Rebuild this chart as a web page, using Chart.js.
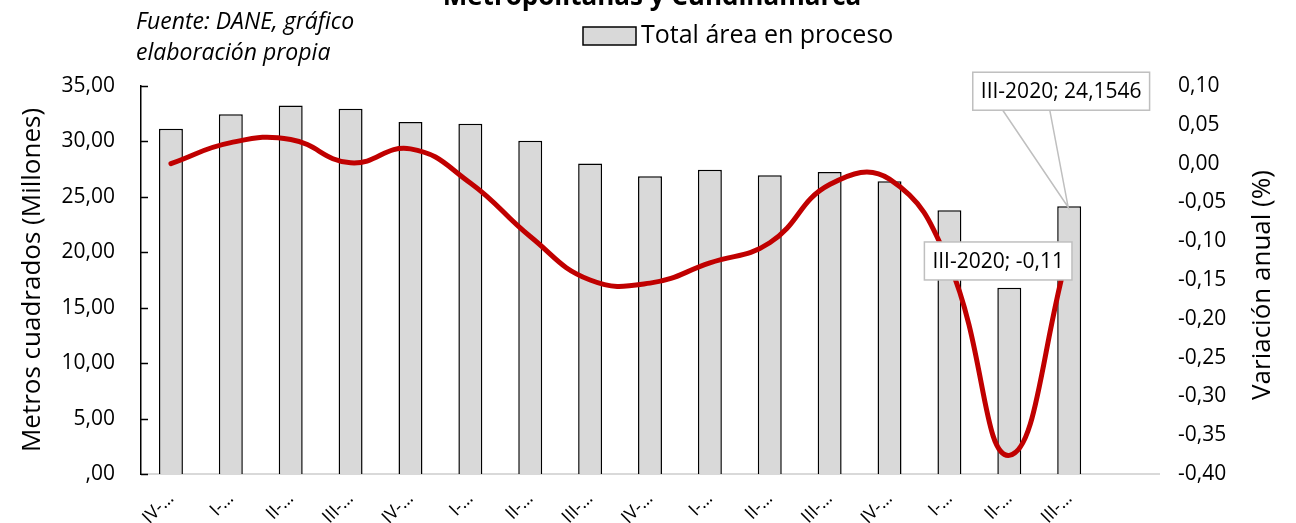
<!DOCTYPE html>
<html>
<head>
<meta charset="utf-8">
<script src="https://cdn.jsdelivr.net/npm/chart.js@4"></script>
<style>
  html, body { margin: 0; padding: 0; background: #fff; }
  #wrap { width: 1296px; height: 523px; }
</style>
</head>
<body>
<div id="wrap"><canvas id="chart" width="1296" height="523"></canvas></div>
<script>
// ======================================
// Data
// ======================================

const categories = [
  "IV-2016", "I-2017", "II-2017", "III-2017",
  "IV-2017", "I-2018", "II-2018", "III-2018",
  "IV-2018", "I-2019", "II-2019", "III-2019",
  "IV-2019", "I-2020", "II-2020", "III-2020", ""
];

// Total área en proceso (millones de m2)
const areaValues = [
  31.15, 32.45, 33.25, 32.95, 31.75, 31.6, 30.05, 28.0,
  26.85, 27.45, 26.95, 27.25, 26.4, 23.8, 16.8, 24.1546, null
];

// Variación anual
const variationValues = [
  0.0, 0.027, 0.031, 0.001, 0.019, -0.025, -0.094, -0.150,
  -0.154, -0.128, -0.102, -0.027, -0.020, -0.130, -0.376, -0.11, null
];

const leftTicks = [0, 5, 10, 15, 20, 25, 30, 35];
const rightTicks = [-0.4, -0.35, -0.3, -0.25, -0.2, -0.15, -0.1, -0.05, 0, 0.05, 0.1];

const FONT = "'Open Sans', 'Liberation Sans', sans-serif";

// ======================================
// Helpers
// ======================================

function fmtComma(value, decimals) {
  if (Math.abs(value) < 1e-9) value = 0;
  return value.toFixed(decimals).replace(".", ",");
}

function fmtLeft(value) {
  const s = fmtComma(value, 2);
  return s.startsWith("0,") ? s.slice(1) : s;
}

// ======================================
// Decorations: title, note, legend, callouts
// ======================================

const decorations = {
  id: "decorations",
  afterDraw(chart) {
    const { ctx, chartArea, scales } = chart;
    ctx.save();

    // cut-off title
    ctx.fillStyle = "#000";
    ctx.font = `bold 26px ${FONT}`;
    ctx.textAlign = "center";
    ctx.textBaseline = "alphabetic";
    ctx.fillText("Metropolitanas y Cundinamarca", 652, 5);

    // source note
    ctx.font = `italic 23px ${FONT}`;
    ctx.textAlign = "left";
    ctx.textBaseline = "middle";
    ctx.fillText("Fuente: DANE, gráfico", 136, 22);
    ctx.fillText("elaboración propia", 136, 53);

    // legend
    ctx.fillStyle = "#d9d9d9";
    ctx.fillRect(583, 27, 53, 18);
    ctx.strokeStyle = "#000";
    ctx.lineWidth = 1.5;
    ctx.strokeRect(583, 27, 53, 18);
    ctx.fillStyle = "#000";
    ctx.font = `25px ${FONT}`;
    ctx.fillText("Total área en proceso", 641, 36);

    // inner ticks on left axis
    ctx.strokeStyle = "#000";
    ctx.lineWidth = 1.5;
    scales.y.ticks.forEach((t) => {
      const y = Math.round(scales.y.getPixelForValue(t.value)) + 0.5;
      ctx.beginPath();
      ctx.moveTo(chartArea.left, y);
      ctx.lineTo(chartArea.left + 7, y);
      ctx.stroke();
    });

    // right axis title (reads bottom to top)
    ctx.save();
    ctx.translate(1263, 285);
    ctx.rotate(-Math.PI / 2);
    ctx.font = `26px ${FONT}`;
    ctx.textAlign = "center";
    ctx.textBaseline = "middle";
    ctx.fillText("Variación anual (%)", 0, 0);
    ctx.restore();

    // callouts for last point
    const i = 15;
    const bar = chart.getDatasetMeta(0).data[i];
    const pt = chart.getDatasetMeta(1).data[i];
    ctx.font = `21px ${FONT}`;
    ctx.textAlign = "center";
    ctx.textBaseline = "middle";

    const barText = `${categories[i]}; ${String(areaValues[i]).replace(".", ",")}`;
    const bw = ctx.measureText(barText).width + 16;
    const bcx = bar.x - 8, bcy = bar.y - 115;
    const bx = bcx - bw / 2, by = bcy - 19;
    // pointer
    ctx.beginPath();
    ctx.moveTo(bx + 30, by + 38);
    ctx.lineTo(bar.x - 1, bar.y + 1);
    ctx.lineTo(bx + 77, by + 38);
    ctx.fillStyle = "rgba(255,255,255,0.7)";
    ctx.fill();
    ctx.strokeStyle = "#bfbfbf";
    ctx.lineWidth = 1.5;
    ctx.stroke();
    ctx.fillStyle = "#fff";
    ctx.fillRect(bx, by, bw, 38);
    ctx.strokeRect(bx, by, bw, 38);
    ctx.fillStyle = "#000";
    ctx.fillText(barText, bcx, bcy + 1);

    const lineText = `${categories[i]}; ${String(variationValues[i]).replace(".", ",")}`;
    const lw = ctx.measureText(lineText).width + 16;
    const lcx = pt.x - 71, lcy = pt.y + 12;
    const lx = lcx - lw / 2, ly = lcy - 19;
    ctx.fillStyle = "#fff";
    ctx.fillRect(lx, ly, lw, 38);
    ctx.strokeStyle = "#bfbfbf";
    ctx.strokeRect(lx, ly, lw, 38);
    ctx.fillStyle = "#000";
    ctx.fillText(lineText, lcx, lcy + 1);

    ctx.restore();
  },
};

// ======================================
// Chart
// ======================================

new Chart(document.getElementById("chart"), {
  data: {
    labels: categories,
    datasets: [
      {
        type: "bar",
        label: "Total área en proceso",
        data: areaValues,
        yAxisID: "y",
        backgroundColor: "#d9d9d9",
        borderColor: "#000",
        borderWidth: 1.5,
        barPercentage: 0.4,
        categoryPercentage: 1,
        order: 1,
      },
      {
        type: "line",
        label: "Variación anual",
        data: variationValues,
        yAxisID: "y1",
        borderColor: "#c00000",
        borderWidth: 5,
        borderCapStyle: "round",
        pointRadius: 0,
        tension: 0.45,
        fill: false,
        order: 0,
      },
    ],
  },
  options: {
    responsive: false,
    animation: false,
    devicePixelRatio: 1,
    layout: { padding: { top: 86, left: 0, right: 0, bottom: 0 } },
    plugins: {
      legend: { display: false },
      tooltip: { enabled: false },
    },
    scales: {
      x: {
        grid: { display: false },
        border: { display: true, color: "#d9d9d9", width: 2 },
        ticks: {
          autoSkip: false,
          maxRotation: 45,
          minRotation: 45,
          padding: 6,
          color: "#000",
          font: { family: FONT, size: 18 },
          callback: (v, i) => (categories[i] ? categories[i].split("-")[0] + "-…" : ""),
        },
        afterFit: (s) => { s.height = 49; },
      },
      y: {
        position: "left",
        min: 0,
        max: 35,
        grid: { display: false, drawTicks: false },
        border: { display: true, color: "#000", width: 1.5 },
        afterBuildTicks: (s) => { s.ticks = leftTicks.map((v) => ({ value: v })); },
        ticks: {
          padding: 26,
          color: "#000",
          font: { family: FONT, size: 21 },
          callback: (v) => fmtLeft(v),
        },
        title: {
          display: true,
          text: "Metros cuadrados (Millones)",
          color: "#000",
          font: { family: FONT, size: 26 },
          padding: { top: 17, bottom: 0 },
        },
        afterFit: (s) => { s.width = 141; },
      },
      y1: {
        position: "right",
        min: -0.4,
        max: 0.1,
        grid: { display: false, drawTicks: false },
        border: { display: false },
        afterBuildTicks: (s) => { s.ticks = rightTicks.map((v) => ({ value: v })); },
        ticks: {
          padding: 19,
          color: "#000",
          font: { family: FONT, size: 21 },
          callback: (v) => fmtComma(v, 2),
        },
        afterFit: (s) => { s.width = 137; },
      },
    },
  },
  plugins: [decorations],
});
</script>
</body>
</html>
